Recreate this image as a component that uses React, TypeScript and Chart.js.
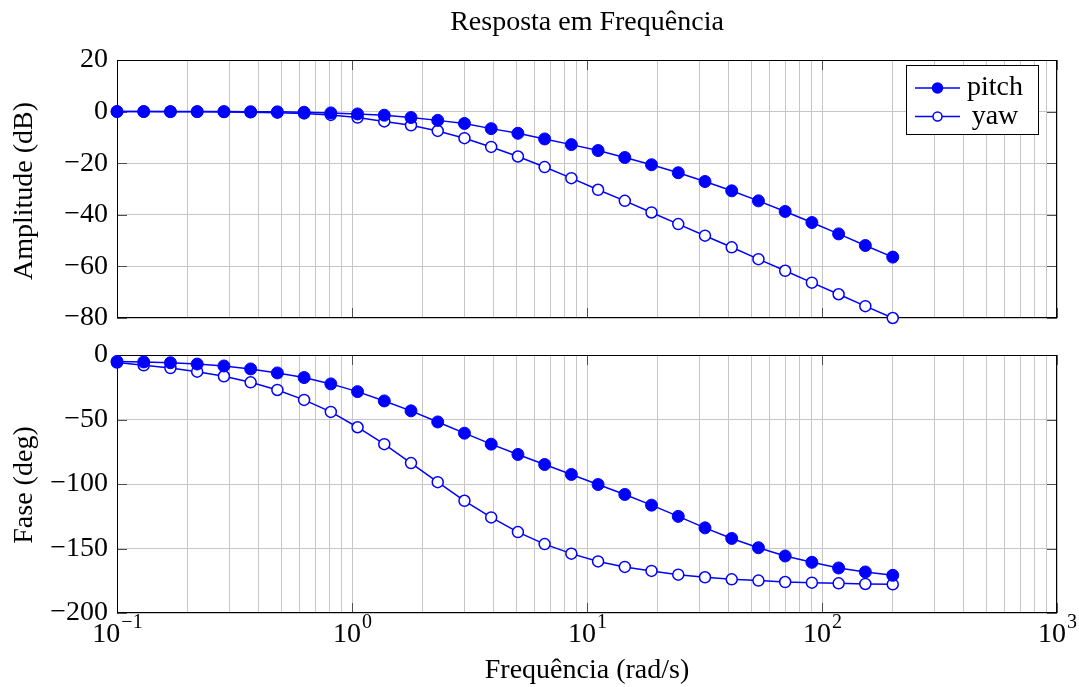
import React, { useEffect, useRef } from "react";
import { Chart, registerables } from "chart.js";

Chart.register(...registerables);

const SERIF = '"Liberation Serif", "Times New Roman", serif';
const BLUE = "#0000ff";
const GRID = "#c6c6c6";

// Frequency samples (rad/s), log spaced from 0.1 to 200
const frequencies = [
  0.1, 0.1299, 0.1688, 0.2194, 0.2851, 0.3704, 0.4813, 0.6254, 0.8126, 1.0559,
  1.372, 1.7827, 2.3164, 3.0098, 3.9108, 5.0815, 6.6027, 8.5793, 11.147, 14.484,
  18.82, 24.454, 31.774, 41.286, 53.645, 69.703, 90.569, 117.68, 152.91, 200,
];

// Magnitude (dB)
const pitchAmplitude = [
  0, 0, 0, 0, 0, -0.05, -0.1, -0.26, -0.5, -0.9,
  -1.4, -2.3, -3.4, -4.6, -6.6, -8.4, -10.6, -12.8, -15.1, -17.8,
  -20.6, -23.7, -27.1, -30.7, -34.6, -38.7, -43.0, -47.4, -51.9, -56.4,
];
const yawAmplitude = [
  0, 0, -0.05, -0.1, -0.15, -0.25, -0.4, -0.7, -1.3, -2.3,
  -3.8, -5.3, -7.5, -10.3, -13.7, -17.4, -21.5, -25.8, -30.3, -34.6,
  -39.1, -43.6, -48.1, -52.6, -57.2, -61.7, -66.3, -70.8, -75.4, -80.0,
];

// Phase (deg)
const pitchPhase = [
  -5.0, -5.4, -6.0, -7.0, -8.5, -10.8, -13.9, -17.5, -22.4, -28.4,
  -35.6, -43.3, -51.9, -60.6, -69.1, -77.1, -84.9, -92.6, -100.4, -108.1,
  -116.4, -125.1, -134.0, -142.2, -149.4, -155.8, -160.7, -165.1, -168.2, -170.8,
];
const yawPhase = [
  -5.9, -8.0, -10.1, -12.9, -16.5, -21.2, -27.1, -34.8, -44.1, -56.0,
  -69.1, -83.8, -98.6, -113.0, -125.9, -137.3, -146.6, -154.0, -160.0, -164.3,
  -167.4, -170.3, -172.3, -173.9, -174.9, -176.0, -176.5, -177.0, -177.5, -177.8,
];

const seriesNames = ["pitch", "yaw"];
const amplitudeAxis = { min: -80, max: 20, step: 20 };
const phaseAxis = { min: -200, max: 0, step: 50 };
const freqExponents = [-1, 0, 1, 2, 3];

const titleText = "Resposta em Frequência";
const amplitudeLabel = "Amplitude (dB)";
const phaseLabel = "Fase (deg)";
const freqLabel = "Frequência (rad/s)";

const WIDTH = 1079;
const HEIGHT = 687;
const TOP_H = 336;
const BOTTOM_H = HEIGHT - TOP_H;
const PLOT_LEFT = 117;
const PLOT_RIGHT = 1057;
const FONT_SIZE = 28;

const font = (size: number) => `${size}px ${SERIF}`;
const minus = (s: string) => s.replace("-", "\u2212");

// Major (1) and minor (2..9) gridline positions over every decade
function logGridValues(): number[] {
  const first = freqExponents[0];
  const last = freqExponents[freqExponents.length - 1];
  const values: number[] = [];
  for (let e = first; e < last; e++) {
    for (let m = 1; m <= 9; m++) values.push(m * Math.pow(10, e));
  }
  values.push(Math.pow(10, last));
  return values;
}

function drawFrame(chart: any, yRange: { min: number; max: number; step: number }) {
  const { ctx, chartArea: a, scales } = chart;
  ctx.save();
  ctx.lineWidth = 1;
  ctx.strokeStyle = "#505050";
  const len = 10;
  ctx.beginPath();
  for (const e of freqExponents) {
    const x = Math.round(scales.x.getPixelForValue(Math.pow(10, e))) + 0.5;
    ctx.moveTo(x, a.top);
    ctx.lineTo(x, a.top + len);
    ctx.moveTo(x, a.bottom);
    ctx.lineTo(x, a.bottom - len);
  }
  for (let v = yRange.min; v <= yRange.max; v += yRange.step) {
    const y = Math.round(scales.y.getPixelForValue(v)) + 0.5;
    ctx.moveTo(a.left, y);
    ctx.lineTo(a.left + len, y);
    ctx.moveTo(a.right, y);
    ctx.lineTo(a.right - len, y);
  }
  ctx.stroke();
  ctx.strokeStyle = "#000000";
  ctx.strokeRect(
    Math.round(a.left) + 0.5,
    Math.round(a.top) + 0.5,
    Math.round(a.right - a.left) - 1,
    Math.round(a.bottom - a.top) - 1
  );
  ctx.restore();
}

function drawVerticalLabel(ctx: CanvasRenderingContext2D, text: string, x: number, y: number) {
  ctx.save();
  ctx.translate(x, y);
  ctx.rotate(-Math.PI / 2);
  ctx.font = font(FONT_SIZE);
  ctx.fillStyle = "#000";
  ctx.textAlign = "center";
  ctx.textBaseline = "alphabetic";
  ctx.fillText(text, 0, 0);
  ctx.restore();
}

function drawLegend(ctx: CanvasRenderingContext2D) {
  const box = { x: 906.5, y: 65.5, w: 132, h: 69 };
  ctx.save();
  ctx.fillStyle = "#ffffff";
  ctx.fillRect(box.x, box.y, box.w, box.h);
  ctx.strokeStyle = "#000";
  ctx.lineWidth = 1;
  ctx.strokeRect(box.x, box.y, box.w, box.h);
  const rows = [88, 116.5];
  seriesNames.forEach((name, i) => {
    const y = rows[i];
    ctx.strokeStyle = BLUE;
    ctx.lineWidth = 1.5;
    ctx.beginPath();
    ctx.moveTo(915, y);
    ctx.lineTo(960, y);
    ctx.stroke();
    ctx.beginPath();
    ctx.arc(937.5, y, i === 0 ? 5 : 4.5, 0, Math.PI * 2);
    ctx.fillStyle = i === 0 ? BLUE : "#ffffff";
    ctx.fill();
    ctx.stroke();
    ctx.fillStyle = "#000";
    ctx.font = font(FONT_SIZE);
    ctx.textAlign = "center";
    ctx.textBaseline = "alphabetic";
    ctx.fillText(name, 995, y + 7);
  });
  ctx.restore();
}

function drawFreqTicks(chart: any, offsetY: number) {
  const { ctx, scales } = chart;
  ctx.save();
  ctx.fillStyle = "#000";
  ctx.textBaseline = "alphabetic";
  ctx.textAlign = "left";
  for (const e of freqExponents) {
    const x = scales.x.getPixelForValue(Math.pow(10, e));
    const base = "10";
    const exp = minus(String(e));
    ctx.font = font(FONT_SIZE);
    const wb = ctx.measureText(base).width;
    ctx.font = font(20);
    const we = ctx.measureText(exp).width;
    const start = x - (wb + we) / 2;
    ctx.font = font(FONT_SIZE);
    ctx.fillText(base, start, 642 - offsetY);
    ctx.font = font(20);
    ctx.fillText(exp, start + wb + 1, 628 - offsetY);
  }
  ctx.restore();
}

function buildConfig(
  pitch: number[],
  yaw: number[],
  yRange: { min: number; max: number; step: number },
  padTop: number,
  padBottom: number,
  decorate: (chart: any) => void
): any {
  const points = (values: number[]) => frequencies.map((f, i) => ({ x: f, y: values[i] }));
  return {
    type: "line",
    data: {
      datasets: [
        {
          label: seriesNames[0],
          data: points(pitch),
          borderColor: BLUE,
          backgroundColor: BLUE,
          borderWidth: 1.5,
          pointRadius: 6,
          pointHoverRadius: 6,
          pointBorderWidth: 1,
          pointBackgroundColor: BLUE,
          pointBorderColor: BLUE,
          tension: 0,
          clip: false,
        },
        {
          label: seriesNames[1],
          data: points(yaw),
          borderColor: BLUE,
          backgroundColor: "#ffffff",
          borderWidth: 1.5,
          pointRadius: 5.5,
          pointHoverRadius: 5.5,
          pointBorderWidth: 1.5,
          pointBackgroundColor: "#ffffff",
          pointBorderColor: BLUE,
          tension: 0,
          clip: false,
        },
      ],
    },
    options: {
      responsive: false,
      maintainAspectRatio: false,
      animation: false,
      events: [],
      layout: {
        autoPadding: false,
        padding: { left: 0, right: WIDTH - PLOT_RIGHT, top: padTop, bottom: padBottom },
      },
      plugins: {
        legend: { display: false },
        tooltip: { enabled: false },
        title: { display: false },
      },
      scales: {
        x: {
          type: "logarithmic",
          min: Math.pow(10, freqExponents[0]),
          max: Math.pow(10, freqExponents[freqExponents.length - 1]),
          afterBuildTicks: (s: any) => {
            s.ticks = logGridValues().map((v) => ({ value: v }));
          },
          afterFit: (s: any) => {
            s.height = 0;
            s.paddingLeft = 0;
            s.paddingRight = 0;
          },
          ticks: { display: false },
          grid: { color: GRID, lineWidth: 1, drawTicks: false },
          border: { display: false },
        },
        y: {
          type: "linear",
          min: yRange.min,
          max: yRange.max,
          afterFit: (s: any) => {
            // plot box is placed by the layout padding alone
            s.width = PLOT_LEFT;
            s.paddingTop = 0;
            s.paddingBottom = 0;
          },
          ticks: {
            stepSize: yRange.step,
            padding: 9,
            color: "#000",
            font: { family: SERIF, size: FONT_SIZE, lineHeight: 1 },
            callback: (v: any) => minus(String(v)),
          },
          grid: { color: GRID, lineWidth: 1, drawTicks: false },
          border: { display: false },
        },
      },
    },
    plugins: [
      {
        id: "bodeDecor",
        beforeDatasetsDraw: (chart: any) => drawFrame(chart, yRange),
        afterDraw: (chart: any) => decorate(chart),
      },
    ],
  };
}

export default function App() {
  const topRef = useRef<HTMLCanvasElement>(null);
  const bottomRef = useRef<HTMLCanvasElement>(null);

  useEffect(() => {
    const top = new Chart(
      topRef.current as HTMLCanvasElement,
      buildConfig(pitchAmplitude, yawAmplitude, amplitudeAxis, 60, TOP_H - 318, (chart) => {
        const ctx = chart.ctx as CanvasRenderingContext2D;
        ctx.save();
        ctx.font = font(FONT_SIZE);
        ctx.fillStyle = "#000";
        ctx.textAlign = "center";
        ctx.textBaseline = "alphabetic";
        ctx.fillText(titleText, 587, 30);
        ctx.restore();
        drawVerticalLabel(ctx, amplitudeLabel, 32, 191);
        drawLegend(ctx);
      })
    );
    const bottom = new Chart(
      bottomRef.current as HTMLCanvasElement,
      buildConfig(pitchPhase, yawPhase, phaseAxis, 355 - TOP_H, BOTTOM_H - (613 - TOP_H), (chart) => {
        const ctx = chart.ctx as CanvasRenderingContext2D;
        drawVerticalLabel(ctx, phaseLabel, 32, 485 - TOP_H);
        drawFreqTicks(chart, TOP_H);
        ctx.save();
        ctx.font = font(FONT_SIZE);
        ctx.fillStyle = "#000";
        ctx.textAlign = "center";
        ctx.textBaseline = "alphabetic";
        ctx.fillText(freqLabel, 587, 678 - TOP_H);
        ctx.restore();
      })
    );
    return () => {
      top.destroy();
      bottom.destroy();
    };
  }, []);

  return (
    <div
      style={{
        position: "absolute",
        left: 0,
        top: 0,
        width: WIDTH,
        height: HEIGHT,
        background: "#ffffff",
      }}
    >
      <canvas
        ref={topRef}
        width={WIDTH}
        height={TOP_H}
        style={{ position: "absolute", left: 0, top: 0, width: WIDTH, height: TOP_H }}
      />
      <canvas
        ref={bottomRef}
        width={WIDTH}
        height={BOTTOM_H}
        style={{ position: "absolute", left: 0, top: TOP_H, width: WIDTH, height: BOTTOM_H }}
      />
    </div>
  );
}
